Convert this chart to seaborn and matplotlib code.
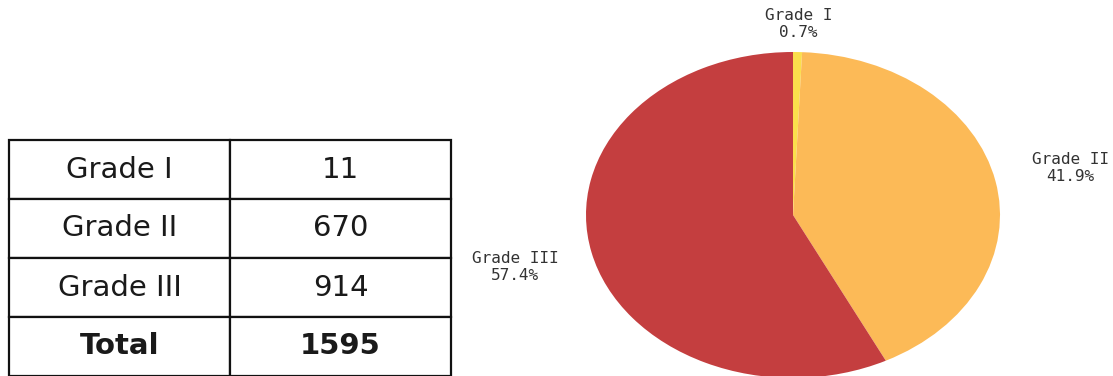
import matplotlib
matplotlib.use("Agg")
import matplotlib.pyplot as plt
import seaborn as sns
import numpy as np

# Tumour grade counts (table) and share of cases (pie)
grades = ["Grade I", "Grade II", "Grade III"]
counts = [11, 670, 914]
total_label = "Total"
total_count = 1595
shares = [0.7, 41.9, 57.4]
pie_colors = ["#FBDF4C", "#FCBA57", "#C43E3F"]

sns.set_theme(style="white")
plt.rcParams["font.family"] = ["DejaVu Sans"]

W, H = 1113, 376
fig = plt.figure(figsize=(W / 100, H / 100), dpi=100)


def px_axes(x0, y0, x1, y1):
    """Axes placed by pixel box (top-left origin)."""
    return fig.add_axes([x0 / W, 1 - y1 / H, (x1 - x0) / W, (y1 - y0) / H])


# ---- table ----
tax = px_axes(9, 140, 451, 376)
tax.axis("off")
rows = [[g, str(c)] for g, c in zip(grades, counts)] + [[total_label, str(total_count)]]
tbl = tax.table(cellText=rows, cellLoc="center", bbox=[0, 0, 1, 1],
                colWidths=[221 / 442, 221 / 442])
tbl.auto_set_font_size(False)
for (r, c), cell in tbl.get_celld().items():
    cell.set_linewidth(1.6)
    cell.set_edgecolor("#111111")
    cell.set_facecolor("white")
    txt = cell.get_text()
    txt.set_fontsize(21)
    txt.set_color("#1a1a1a")
    if r == len(rows) - 1:
        txt.set_fontweight("bold")

# ---- pie ----
pax = px_axes(586, 52, 1000, 378)
wedges, _ = pax.pie(shares, colors=pie_colors, startangle=90, counterclock=False,
                    wedgeprops=dict(linewidth=0))
pax.set_aspect("auto")
pax.set_xlim(-1, 1)
pax.set_ylim(-1, 1)

label_dist = [1.17, 1.37, 1.38]
for w, g, s, d in zip(wedges, grades, shares, label_dist):
    ang = np.deg2rad((w.theta1 + w.theta2) / 2)
    pax.text(d * np.cos(ang), d * np.sin(ang), f"{g}\n{s:.1f}%",
             ha="center", va="center", multialignment="center",
             family="DejaVu Sans Mono", fontsize=11.5, color="#333333",
             linespacing=1.15, clip_on=False)

fig.savefig("out.png", dpi=100, facecolor="white")
